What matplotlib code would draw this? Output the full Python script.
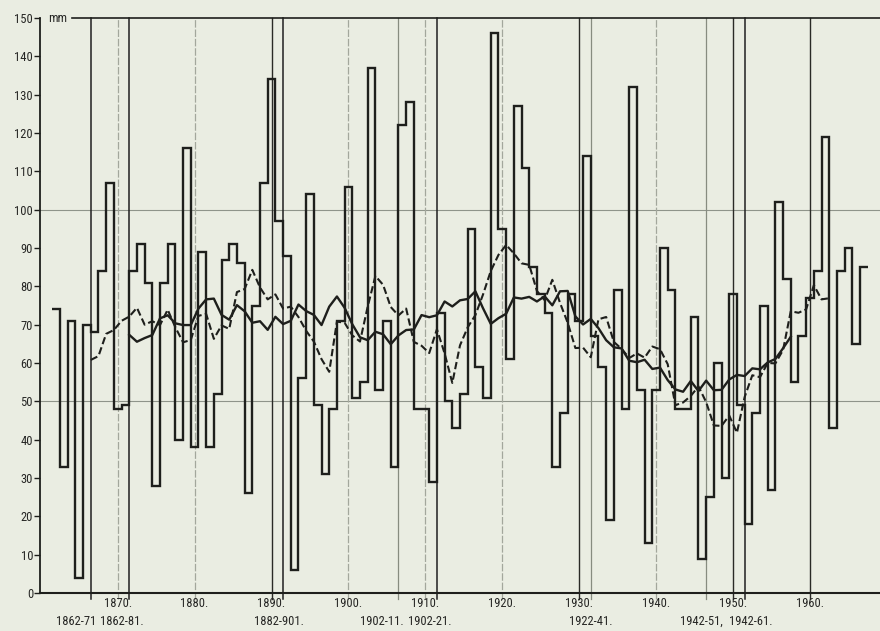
import numpy as np
import pandas as pd
import matplotlib
matplotlib.use("Agg")
import matplotlib.pyplot as plt
from matplotlib import font_manager

# Annual precipitation totals (mm), 1862-1967
years = np.arange(1862, 1968)
precip = np.array([
    74, 33, 71, 4, 70, 68, 84, 107, 48, 49,      # 1862-1871
    84, 91, 81, 28, 81, 91, 40, 116, 38, 89,     # 1872-1881
    38, 52, 87, 91, 86, 26, 75, 107, 134, 97,    # 1882-1891
    88, 6, 56, 104, 49, 31, 48, 71, 106, 51,     # 1892-1901
    55, 137, 53, 71, 33, 122, 128, 48, 48, 29,   # 1902-1911
    73, 50, 43, 52, 95, 59, 51, 146, 95, 61,     # 1912-1921
    127, 111, 85, 78, 73, 33, 47, 78, 71, 114,   # 1922-1931
    67, 59, 19, 79, 48, 132, 53, 13, 53, 90,     # 1932-1941
    79, 48, 48, 72, 9, 25, 60, 30, 78, 49,       # 1942-1951
    18, 47, 75, 27, 102, 82, 55, 67, 77, 84,     # 1952-1961
    119, 43, 84, 90, 65, 85,                     # 1962-1967
])

decades = [1870, 1880, 1890, 1900, 1910, 1920, 1930, 1940, 1950, 1960]
decade_labels = ["1870.", "1880.", "1890.", "1900.", "1910.",
                 "1920.", "1930.", "1940.", "1950.", "1960."]

period_start = [1862, 1862, 1882, 1902, 1902, 1922, 1942, 1942]
period_end = [1871, 1881, 1901, 1911, 1921, 1941, 1951, 1961]
period_labels = ["1862-71", "1862-81.", "1882-901.", "1902-11.",
                 "1902-21.", "1922-41.", "1942-51,", "1942-61."]

y_ticks = list(range(0, 151, 10))

# running means (10 and 20 years), placed at the centre of each window
series = pd.Series(precip, index=years)
ma10 = series.rolling(10).mean().dropna()
ma20 = series.rolling(20).mean().dropna()

# pick a narrow face if one is available
installed = {f.name for f in font_manager.fontManager.ttflist}
narrow = None
for cand in ("Liberation Sans Narrow", "DejaVu Sans Condensed", "Roboto Condensed",
             "Open Sans Condensed", "Noto Sans Condensed"):
    if cand in installed:
        narrow = cand
        break
if narrow:
    FONT = [narrow, "DejaVu Sans"]
    STRETCH = "normal"
    FS = 9.0
else:
    FONT = ["DejaVu Sans"]
    STRETCH = "condensed"
    FS = 7.6
plt.rcParams["font.family"] = FONT
TXT = dict(fontsize=FS, fontstretch=STRETCH, color="#262624")

BG = "#eaede2"
INK = "#1e1f1c"

fig = plt.figure(figsize=(8.8, 6.31), dpi=100, facecolor=BG)
ax = fig.add_axes([40 / 880, 1 - 593 / 631, 840 / 880, 575 / 631])
ax.set_facecolor(BG)
ax.set_xlim(1859.9, 1969.1)
ax.set_ylim(0, 150)

# reference lines
for y in (50, 100):
    ax.axhline(y, color="#8f948a", lw=0.8, zorder=1)
ax.plot([1864.0, 1969.1], [150, 150], color=INK, lw=1.2, clip_on=False, zorder=2)

strong_decades = {1890, 1930, 1950, 1960}
for d in decades:
    if d in strong_decades:
        ax.plot([d, d], [-1.5, 150], color="#2a2a26", lw=1.0, zorder=1, clip_on=False)
    else:
        ax.plot([d, d], [-1.5, 150], color="#a3a79c", lw=0.9, ls=(0, (6, 1.5)),
                zorder=1, clip_on=False)

mids = [(s + e) / 2 for s, e in zip(period_start, period_end)]
strong_mid = {1866.5, 1871.5, 1891.5, 1911.5, 1951.5}
for m in mids:
    if m in strong_mid:
        ax.plot([m, m], [-1.5, 150], color="#202020", lw=1.1, zorder=1, clip_on=False)
    else:
        ax.plot([m, m], [-1.5, 150], color="#878c80", lw=0.9, zorder=1, clip_on=False)

# yearly totals as a stepped outline
edges = np.append(years - 0.5, years[-1] + 0.5)
ax.stairs(precip, edges, baseline=None, color=INK, lw=1.7, zorder=3)

# running means
ax.plot(ma10.index - 4.5, ma10.values, color=INK, lw=1.5, ls=(0, (3.5, 1.6)), zorder=4)
ax.plot(ma20.index - 9.5, ma20.values, color=INK, lw=1.7, zorder=4)

# axes
for side in ("top", "right"):
    ax.spines[side].set_visible(False)
ax.spines["left"].set_color(INK)
ax.spines["left"].set_linewidth(1.3)
ax.spines["bottom"].set_color(INK)
ax.spines["bottom"].set_linewidth(1.5)

ax.set_yticks(y_ticks)
ax.set_yticklabels([str(v) for v in y_ticks], fontsize=FS, fontstretch=STRETCH)
ax.tick_params(axis="y", direction="out", length=4, width=1.0, color=INK,
               labelcolor="#262624", pad=1)

ax.set_xticks(decades)
ax.set_xticklabels(decade_labels, fontsize=FS, fontstretch=STRETCH)
ax.tick_params(axis="x", length=0, pad=3, labelcolor="#262624")

label_x = [1864.6, 1870.5, 1891.0, 1904.4, 1910.6, 1931.5, 1945.9, 1952.3]
for lx, txt in zip(label_x, period_labels):
    ax.text(lx, -0.05, txt, transform=ax.get_xaxis_transform(), ha="center",
            va="center", **TXT)

ax.text(1861.0, 150, "mm", ha="left", va="center", **TXT)

fig.savefig("out.png", dpi=100, facecolor=BG)
